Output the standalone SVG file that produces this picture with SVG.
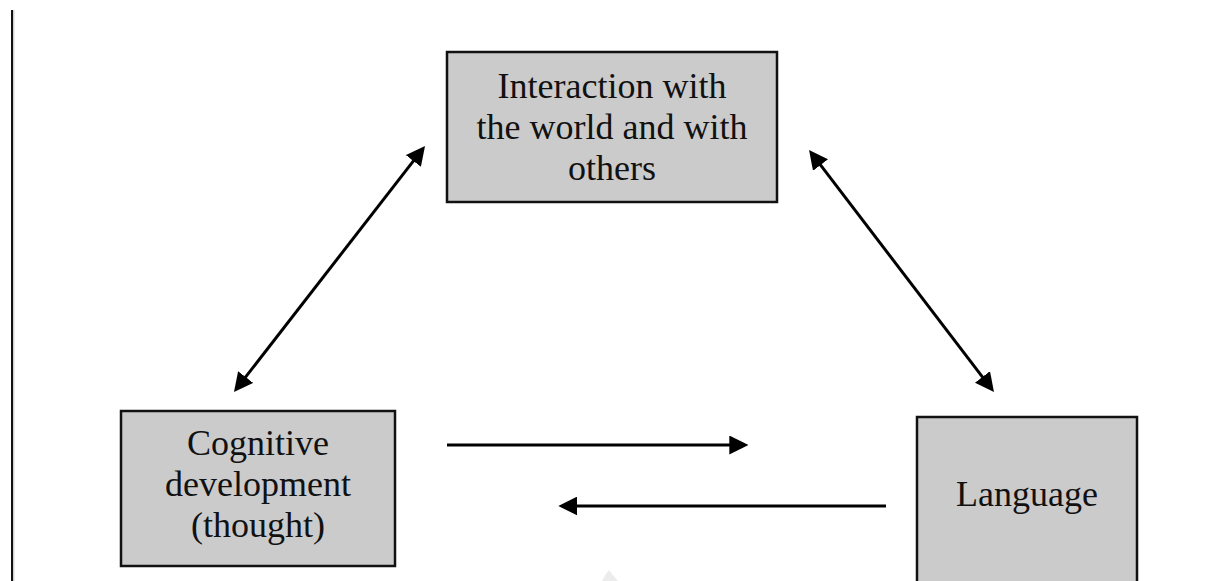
<svg xmlns="http://www.w3.org/2000/svg" width="1206" height="581" viewBox="0 0 1206 581">
  <style>
    .box { fill: #cbcbcb; stroke: #111111; stroke-width: 2.5; }
    .label { font-family: "Liberation Serif", "Times New Roman", serif; font-size: 36px; fill: #111111; text-anchor: middle; }
    .link { stroke: #000000; stroke-width: 3; fill: none; }
  </style>
  <defs>
    <marker id="head" viewBox="0 0 19 19" markerWidth="19" markerHeight="19" refX="9" refY="9.5" markerUnits="userSpaceOnUse" orient="auto-start-reverse">
      <path d="M0,0 L19,9.5 L0,19 z" fill="#000000"/>
    </marker>
  </defs>

  <rect x="0" y="0" width="1206" height="581" fill="#ffffff"/>

  <!-- page margin rule -->
  <g id="margin-rule">
    <line x1="12" y1="10" x2="12" y2="581" stroke="#111111" stroke-width="2"/>
    <line x1="13.8" y1="10" x2="13.8" y2="581" stroke="#bdbdbd" stroke-width="1"/>
  </g>

  <g id="connectors">
    <line class="link" x1="240.1" y1="384.1" x2="418.9" y2="153.9" marker-start="url(#head)" marker-end="url(#head)"/>
    <line class="link" x1="815.1" y1="157.9" x2="987.9" y2="384.1" marker-start="url(#head)" marker-end="url(#head)"/>
    <line class="link" x1="447" y1="445" x2="738.3" y2="445" marker-end="url(#head)"/>
    <line class="link" x1="886" y1="506" x2="568.3" y2="506" marker-end="url(#head)"/>
  </g>

  <g id="interaction">
    <rect class="box" x="447" y="52" width="330" height="150"/>
    <text class="label" x="612" y="98">Interaction with</text>
    <text class="label" x="612" y="139">the world and with</text>
    <text class="label" x="612" y="180">others</text>
  </g>

  <g id="cognitive">
    <rect class="box" x="121" y="411" width="274" height="155"/>
    <text class="label" x="258" y="455">Cognitive</text>
    <text class="label" x="258" y="496">development</text>
    <text class="label" x="258" y="537">(thought)</text>
  </g>

  <g id="language">
    <rect class="box" x="917" y="417" width="220" height="170"/>
    <text class="label" x="1027" y="506">Language</text>
  </g>

  <!-- faint mark near the bottom edge -->
  <path d="M602,581 L606,574 L609,570 L612,574 L618,581 z" fill="#ececec"/>
</svg>
